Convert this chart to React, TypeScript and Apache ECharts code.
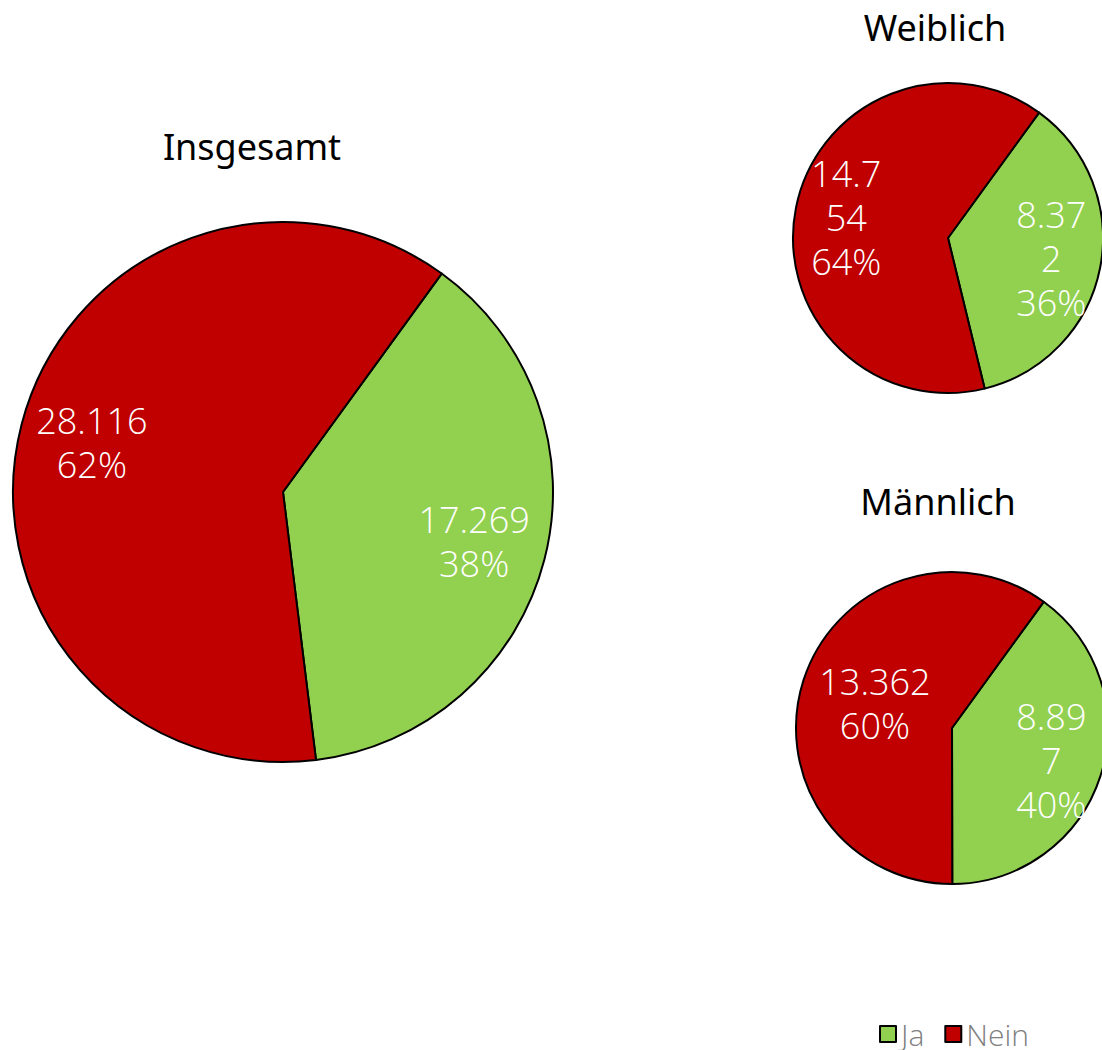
import React, { useEffect, useRef } from "react";
import * as echarts from "echarts";

const categories = ["Ja", "Nein"];
const pieTitles = ["Insgesamt", "Weiblich", "Männlich"];
const insgesamtValues = [17269, 28116];
const weiblichValues = [8372, 14754];
const maennlichValues = [8897, 13362];

const COLORS = ["#92D050", "#C00000"];

// layout only
const layouts = [
  { center: [283, 492], r: 270, titleX: 247, titleY: 123, labelRatio: [0.72, 0.72], labelWidth: [0, 0] },
  { center: [948, 238], r: 155, titleX: 930, titleY: 4, labelRatio: [0.66, 0.65], labelWidth: [80, 80] },
  { center: [952, 728], r: 156, titleX: 933, titleY: 478, labelRatio: [0.65, 0.5], labelWidth: [80, 0] },
];

const fmt = (v: number) => {
  const s = String(Math.round(v));
  return s.replace(/\B(?=(\d{3})+(?!\d))/g, ".");
};

export default function App() {
  const ref = useRef<HTMLDivElement>(null);
  useEffect(() => {
    document.body.style.margin = "0";
    const chart = echarts.init(ref.current!, null, { renderer: "svg" });
    const valueSets = [insgesamtValues, weiblichValues, maennlichValues];
    const series: any[] = [];
    valueSets.forEach((vals, i) => {
      const L = layouts[i];
      series.push({
        type: "pie",
        name: pieTitles[i],
        center: L.center,
        radius: [0, L.r],
        startAngle: 54,
        clockwise: true,
        percentPrecision: 0,
        label: { show: false },
        labelLine: { show: false },
        emphasis: { disabled: true },
        silent: true,
        itemStyle: { borderColor: "#000", borderWidth: 2 },
        data: categories.map((c, k) => ({ name: c, value: vals[k], itemStyle: { color: COLORS[k] } })),
      });
    });
    valueSets.forEach((vals, i) => {
      const L = layouts[i];
      categories.forEach((_, k) => {
        const ratio = L.labelRatio[k];
        const r0 = L.r * (2 * ratio - 1);
        series.push({
          type: "pie",
          name: pieTitles[i] + "-label-" + k,
          center: L.center,
          radius: [Math.max(0, r0), L.r],
          startAngle: 54,
          clockwise: true,
          percentPrecision: 0,
          silent: true,
          emphasis: { disabled: true },
          labelLine: { show: false },
          itemStyle: { color: "transparent", borderWidth: 0 },
          label: { show: false },
          data: categories.map((c, j) => ({
            name: c,
            value: vals[j],
            itemStyle: { color: "transparent" },
            label:
              j === k
                ? {
                    show: true,
                    position: "inside",
                    color: "#ffffff",
                    fontFamily: "'Open Sans', sans-serif",
                    fontWeight: 300,
                    fontSize: 36,
                    lineHeight: 44,
                    align: "center",
                    ...(L.labelWidth[k] ? { width: L.labelWidth[k], overflow: "breakAll" } : {}),
                    formatter: (p: any) => fmt(p.value) + "\n" + p.percent + "%",
                  }
                : { show: false },
          })),
        });
      });
    });
    chart.setOption({
      animation: false,
      title: pieTitles.map((t, i) => ({
        text: t,
        left: layouts[i].titleX,
        top: layouts[i].titleY,
        textAlign: "center",
        textStyle: { fontFamily: "'Noto Sans', sans-serif", fontWeight: 400, fontSize: 36, color: "#000" },
      })),
      legend: {
        data: categories.map((c, k) => ({ name: c, itemStyle: { color: COLORS[k], borderColor: "#000", borderWidth: 2 } })),
        left: 879,
        top: 1016,
        padding: 0,
        icon: "rect",
        itemWidth: 16,
        itemHeight: 16,
        itemGap: 20,
        textStyle: { color: "#7f7f7f", fontFamily: "'Open Sans', sans-serif", fontWeight: 300, fontSize: 30, lineHeight: 36 },
      },
      series,
    });
    return () => chart.dispose();
  }, []);
  return <div ref={ref} style={{ width: 1102, height: 1050 }} />;
}
